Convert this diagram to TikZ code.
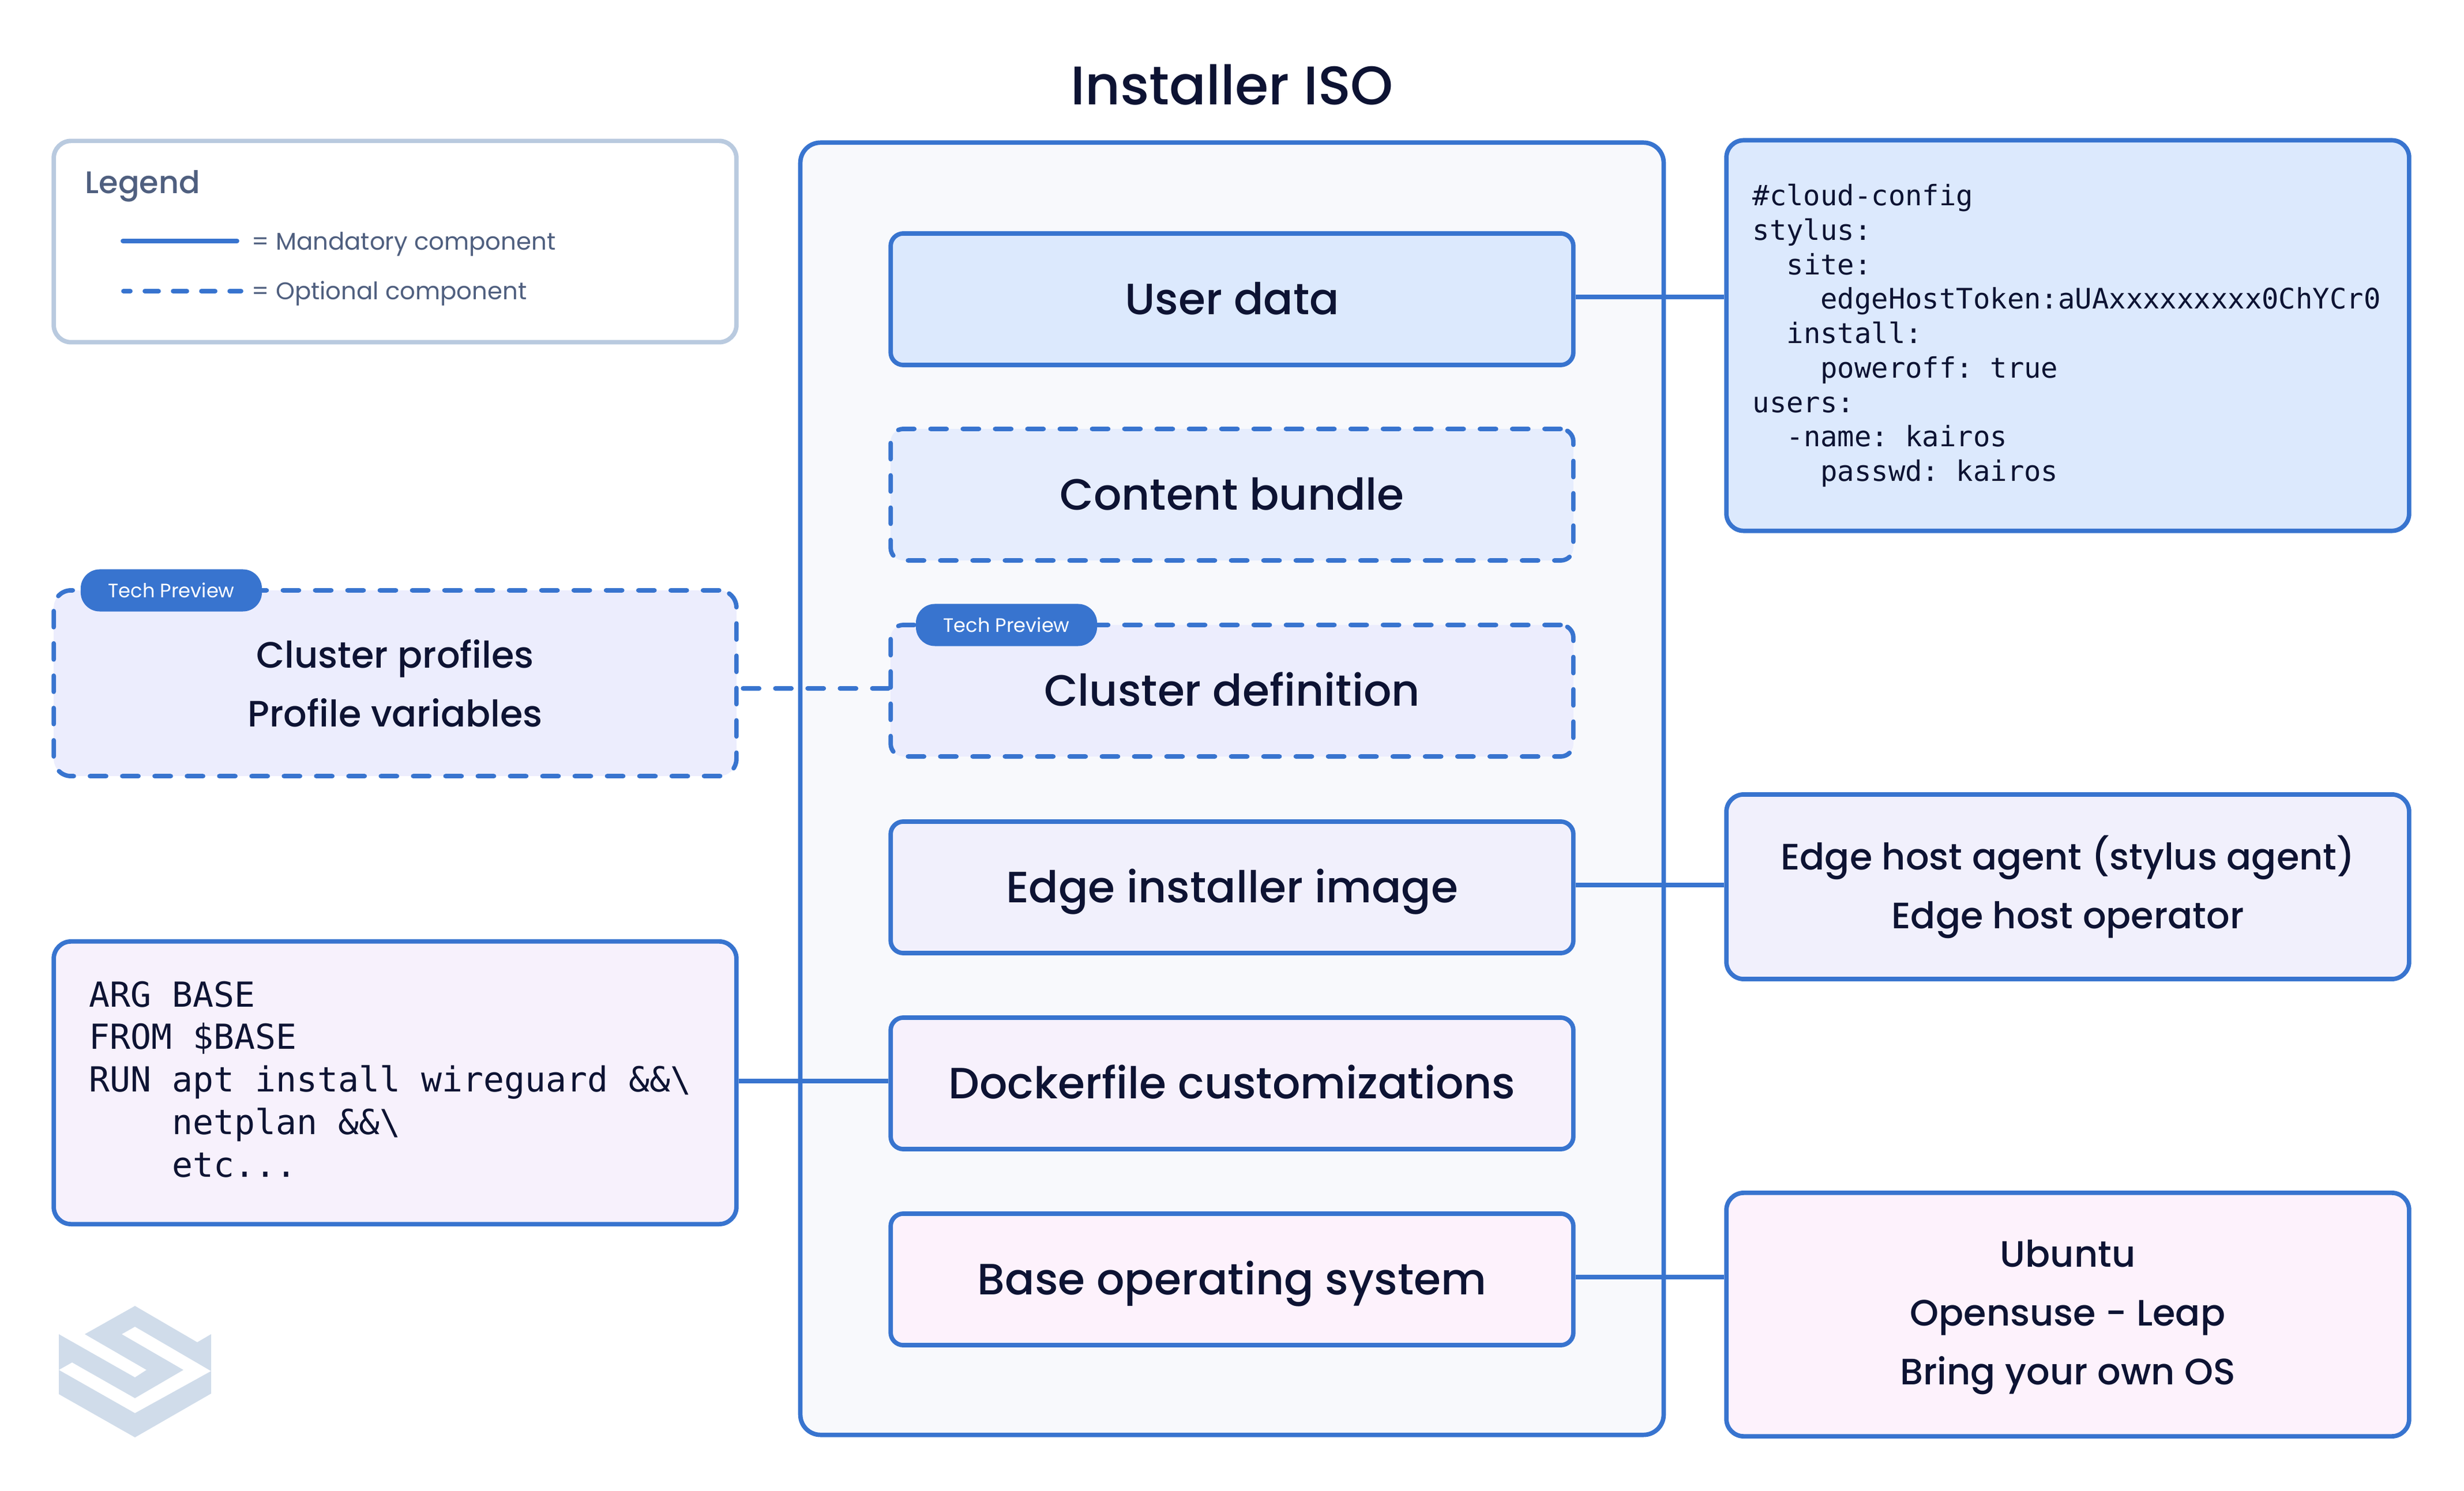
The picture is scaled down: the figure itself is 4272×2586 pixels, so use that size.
\documentclass[tikz,border=0pt]{standalone}
\usepackage{fontspec}
\setmainfont{Poppins}
\setmonofont{DejaVu Sans Mono}
\newfontfamily\mediumfont{Poppins Medium}
\usetikzlibrary{positioning}
\definecolor{edgeblue}{RGB}{56,116,207}
\definecolor{inkdark}{RGB}{13,19,51}
\definecolor{inkgrey}{RGB}{79,95,127}
\definecolor{legendline}{RGB}{185,202,223}
\definecolor{logotint}{RGB}{208,220,234}
\definecolor{isofill}{RGB}{248,249,252}
\definecolor{userfill}{RGB}{220,233,253}
\definecolor{bundlefill}{RGB}{230,237,253}
\definecolor{clusterfill}{RGB}{236,237,253}
\definecolor{imagefill}{RGB}{241,240,252}
\definecolor{dockerfill}{RGB}{247,241,252}
\definecolor{basefill}{RGB}{253,242,252}
\tikzset{
  solidedge/.style={line width=0.077cm,draw=edgeblue},
  dashedge/.style={solidedge,line cap=round,dash pattern=on 0.28cm off 0.28cm},
  sidebox/.style={solidedge,rounded corners=0.3cm,minimum width=11.83cm,inner sep=0pt,text=inkdark,align=center,font=\mediumfont\fontsize{18.1}{29}\selectfont},
  layerbox/.style={solidedge,rounded corners=0.22cm,minimum width=11.83cm,minimum height=2.28cm,inner sep=0pt,text=inkdark,text height=0.73cm,text depth=0.21cm,font=\mediumfont\fontsize{21.6}{26}\selectfont},
  codebox/.style={sidebox,align=flush left,font=\ttfamily},
  badge/.style={fill=edgeblue,rounded corners=0.33cm,minimum width=3.14cm,minimum height=0.73cm,inner sep=0pt,text=white,font=\fontsize{9.6}{12}\selectfont},
  legendtext/.style={anchor=west,inner sep=0pt,text=inkgrey,font=\fontsize{11.9}{15}\selectfont}
}
\begin{document}
\begin{tikzpicture}[x=0.01cm,y=-0.01cm]
  \useasboundingbox (0,0) rectangle (4272,2586);
  \node[text=inkdark,font=\mediumfont\fontsize{26.8}{32}\selectfont] (title) at (2136,147) {Installer ISO};
  \node[solidedge,fill=isofill,rounded corners=0.35cm,minimum width=14.96cm,minimum height=22.4cm] (iso) at (2136,1368) {};

  \node[layerbox,fill=userfill]             (userdata)   at (2136,519)  {User data};
  \node[layerbox,dashedge,fill=bundlefill]  (bundle)     at (2136,858)  {Content bundle};
  \node[layerbox,dashedge,fill=clusterfill] (clusterdef) at (2136,1198) {Cluster definition};
  \node[layerbox,fill=imagefill]            (image)      at (2136,1539) {Edge installer image};
  \node[layerbox,fill=dockerfill]           (docker)     at (2136,1879) {Dockerfile customizations};
  \node[layerbox,fill=basefill]             (baseos)     at (2136,2219) {Base operating system};

  \node[codebox,fill=userfill,minimum height=6.77cm,text width=10.92cm,font=\ttfamily\fontsize{13.9}{17}\selectfont] (cloudconfig) at (3585,582) {\#cloud-config\\stylus:\\\ \ site:\\\ \ \ \ edgeHostToken:aUAxxxxxxxxx0ChYCr0\\\ \ install:\\\ \ \ \ poweroff: true\\users:\\\ \ -name: kairos\\\ \ \ \ passwd: kairos};
  \node[sidebox,fill=imagefill,minimum height=3.2cm] (agent) at (3585,1538) {Edge host agent (stylus agent)\\Edge host operator};
  \node[sidebox,fill=basefill,minimum height=4.22cm,text height=2.6cm] (osrefs) at (3585,2280) {Ubuntu\\Opensuse - Leap\\Bring your own OS};

  \node[sidebox,draw=legendline,fill=white,minimum height=3.49cm] (legend) at (685,419) {};
  \node[legendtext,font=\mediumfont\fontsize{15.4}{19}\selectfont] (legendtitle) at (147,323) {Legend};
  \coordinate (mandstart) at (213,418);
  \coordinate (mandend) at (411,418);
  \coordinate (optstart) at (214,505);
  \coordinate (optend) at (418,505);
  \draw[solidedge,line cap=round] (mandstart) -- (mandend);
  \draw[dashedge,dash pattern=on 0.24cm off 0.25cm,dash phase=0.12cm] (optstart) -- (optend);
  \node[legendtext] (mandtext) at (436,423) {= Mandatory component};
  \node[legendtext] (opttext) at (436,509) {= Optional component};

  \node[sidebox,dashedge,fill=clusterfill,minimum height=3.22cm] (profiles) at (685,1185) {Cluster profiles\\Profile variables};
  \node[codebox,fill=dockerfill,minimum height=4.9cm,text width=10.6cm,text depth=3.08cm,font=\ttfamily\fontsize{17}{21}\selectfont] (dockerfile) at (685,1878) {ARG BASE\\FROM \$BASE\\RUN apt install wireguard \&\&\textbackslash\\\ \ \ \ netplan \&\&\textbackslash\\\ \ \ \ etc...};

  \node[badge] (profilesbadge) at (297,1024) {Tech Preview};
  \node[badge] (clusterbadge)  at (1745,1084) {Tech Preview};

  \draw[solidedge] ([yshift=0.04cm]userdata.east) -- ([yshift=0.04cm]userdata.east -| cloudconfig.west);
  \draw[solidedge] ([yshift=0.04cm]image.east) -- ([yshift=0.04cm]image.east -| agent.west);
  \draw[solidedge] ([yshift=0.04cm]baseos.east) -- ([yshift=0.04cm]baseos.east -| osrefs.west);
  \draw[solidedge] ([yshift=0.04cm]docker.west) -- ([yshift=0.04cm]docker.west -| dockerfile.east);
  \draw[dashedge]  ([yshift=0.04cm]clusterdef.west) -- ([yshift=0.04cm]clusterdef.west -| profiles.east);

  \fill[logotint] (234,2265) -- (342,2328) -- (366,2314) -- (366,2378) -- (234,2301) -- (211,2314) -- (318,2376) -- (234,2425) -- (125,2363) -- (102,2376) -- (102,2314) -- (234,2389) -- (254,2376) -- (147,2314) -- cycle;
  \fill[logotint] (102,2376) -- (234,2451) -- (366,2378) -- (366,2417) -- (234,2493) -- (102,2418) -- cycle;
\end{tikzpicture}
\end{document}
